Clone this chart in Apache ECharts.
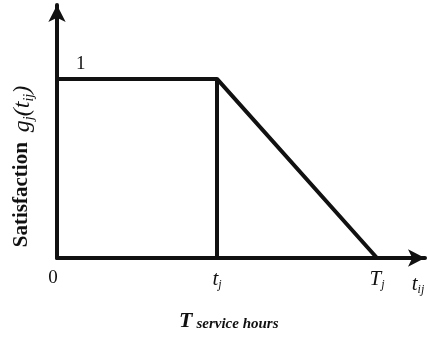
<!DOCTYPE html>
<html>
<head>
<meta charset="utf-8">
<script src="https://cdn.jsdelivr.net/npm/echarts@6/dist/echarts.min.js"></script>
<style>
  html, body { margin: 0; padding: 0; background: #fff; }
  #main { width: 427px; height: 339px; }
</style>
</head>
<body>
<div id="main"></div>
<script>
// satisfaction curve: flat at 1 until t_j, then falls to 0 at T_j
const curveX = [0, 1, 2];
const curveY = [1, 1, 0];
// vertical drop line at t_j
const dropX = [1, 1];
const dropY = [1, 0];
// x tick positions and their labels
const xTickValues = [0, 1, 2];
const xTickLabels = ['{n|0}', '{it|t}{sub|j}', '{it|T}{sub|j}'];
// y tick
const yTickValues = [1];
const yTickLabels = ['1'];

const serif = '"Liberation Serif", "DejaVu Serif", serif';
const richText = {
  n: { fontFamily: serif, fontSize: 19, color: '#111', lineHeight: 24, verticalAlign: 'top', padding: [0, 8, 0, 0] },
  it: { fontFamily: serif, fontStyle: 'italic', fontSize: 21, color: '#111', lineHeight: 22, verticalAlign: 'top' },
  sub: { fontFamily: serif, fontStyle: 'italic', fontSize: 12, color: '#111', lineHeight: 14, verticalAlign: 'bottom' }
};

const chart = echarts.init(document.getElementById('main'));
const option = {
  backgroundColor: '#fff',
  animation: false,
  grid: { left: 57, right: 2, top: 5, bottom: 81, outerBoundsMode: 'none' },
  title: {
    text: '{T|T}{s|service hours}',
    left: 174,
    top: 303,
    textStyle: {
      rich: {
        T: { fontFamily: serif, fontStyle: 'italic', fontSize: 22, color: '#111', lineHeight: 24, verticalAlign: 'bottom' },
        s: { fontFamily: serif, fontStyle: 'italic', fontWeight: 'bold', fontSize: 15, color: '#111', lineHeight: 16, verticalAlign: 'bottom', padding: [0, 0, 0, 4] }
      }
    }
  },
  xAxis: {
    type: 'value',
    min: 0,
    max: 2.3,
    name: '{it|t}{sub|ij}',
    nameLocation: 'end',
    nameGap: -7,
    nameTextStyle: { align: 'center', verticalAlign: 'top', padding: [16, 0, 0, 0], rich: richText },
    splitLine: { show: false },
    axisTick: { show: false },
    axisLine: {
      lineStyle: { color: '#111', width: 4 },
      symbol: ['none', 'arrow'],
      symbolSize: [13, 17]
    },
    axisLabel: {
      customValues: xTickValues,
      margin: 11,
      formatter: function (v) {
        return xTickLabels[xTickValues.indexOf(v)];
      },
      rich: richText
    }
  },
  yAxis: {
    type: 'value',
    min: 0,
    max: 1.413,
    name: '{b|Satisfaction}   {g|g}{gs|j}{g|(t}{gs|ij}{g|)}',
    nameLocation: 'middle',
    nameRotate: 90,
    nameGap: 21,
    nameTextStyle: {
      padding: [0, 70, 0, 0],
      rich: {
        b: { fontFamily: serif, fontWeight: 'bold', fontSize: 21, color: '#111', lineHeight: 24, verticalAlign: 'top' },
        g: { fontFamily: serif, fontStyle: 'italic', fontSize: 24, color: '#111', lineHeight: 25, verticalAlign: 'top' },
        gs: { fontFamily: serif, fontStyle: 'italic', fontSize: 14, color: '#111', lineHeight: 15, verticalAlign: 'bottom' }
      }
    },
    splitLine: { show: false },
    axisTick: { show: false },
    axisLine: {
      lineStyle: { color: '#111', width: 4 },
      symbol: ['none', 'arrow'],
      symbolSize: [13, 17]
    },
    axisLabel: {
      customValues: yTickValues,
      inside: true,
      margin: 19,
      verticalAlign: 'bottom',
      padding: [0, 0, 5, 0],
      fontFamily: serif,
      fontSize: 19,
      color: '#111',
      formatter: function (v) {
        return yTickLabels[yTickValues.indexOf(v)];
      }
    }
  },
  series: [
    {
      type: 'line',
      data: curveX.map((x, i) => [x, curveY[i]]),
      showSymbol: false,
      lineStyle: { color: '#111', width: 4 }
    },
    {
      type: 'line',
      data: dropX.map((x, i) => [x, dropY[i]]),
      showSymbol: false,
      lineStyle: { color: '#111', width: 4 }
    }
  ]
};
chart.setOption(option);
</script>
</body>
</html>
